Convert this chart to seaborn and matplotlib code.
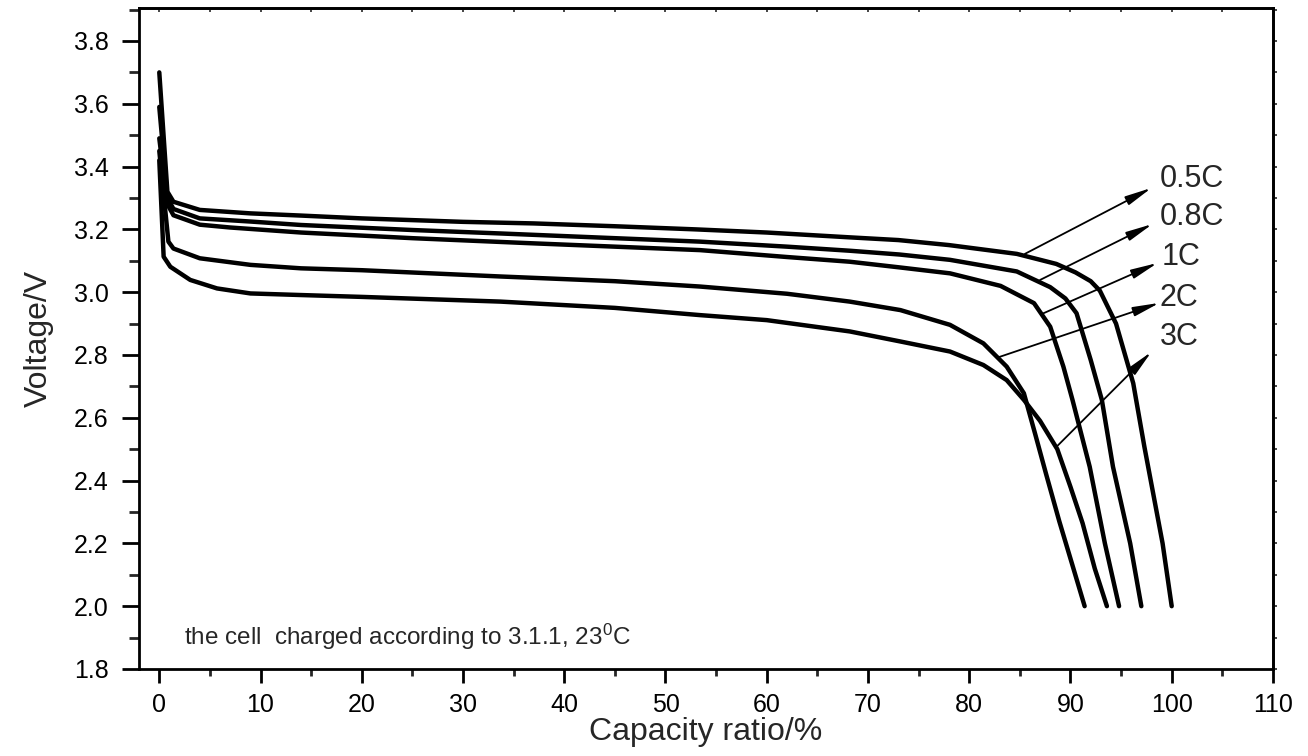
import matplotlib
matplotlib.use("Agg")
import matplotlib.pyplot as plt
from matplotlib.ticker import MultipleLocator
import seaborn as sns
import pandas as pd

# ---- data ----
rates = ["0.5C", "0.8C", "1C", "2C", "3C"]

x_05 = [0, 0.8, 1.4, 4, 9, 14, 20, 30, 37, 45, 53, 60, 68, 73, 78, 84.7, 88.6, 90.5, 92.0, 92.9, 94.5, 96.2, 97.3, 99.1, 100]
y_05 = [3.70, 3.32, 3.288, 3.262, 3.251, 3.244, 3.235, 3.224, 3.219, 3.21, 3.20, 3.19, 3.175, 3.166, 3.150, 3.122, 3.090, 3.063, 3.035, 3.005, 2.90, 2.71, 2.508, 2.20, 2.00]

x_08 = [0, 0.8, 1.4, 4, 9, 14, 25, 33.7, 45, 53.4, 62, 68.2, 73.1, 78.1, 84.7, 88.0, 89.5, 90.6, 92.0, 93.1, 94.2, 95.9, 97.0]
y_08 = [3.59, 3.30, 3.265, 3.235, 3.225, 3.214, 3.198, 3.187, 3.172, 3.161, 3.145, 3.132, 3.120, 3.103, 3.066, 3.016, 2.980, 2.933, 2.784, 2.657, 2.444, 2.20, 2.00]

x_1 = [0, 0.8, 1.4, 4, 7, 14, 25, 36.6, 45, 53.4, 62, 68.2, 73.1, 78.1, 83.1, 86.4, 88.0, 89.3, 90.2, 91.9, 93.4, 94.8]
y_1 = [3.49, 3.28, 3.245, 3.215, 3.206, 3.19, 3.172, 3.156, 3.145, 3.134, 3.112, 3.097, 3.079, 3.060, 3.020, 2.965, 2.890, 2.763, 2.657, 2.444, 2.20, 2.00]

x_2 = [0, 0.9, 1.4, 4, 9, 14, 20, 33.7, 45, 53.4, 62, 68.2, 73.2, 78.1, 81.4, 83.7, 85.4, 86.5, 87.6, 88.9, 90.2, 91.4]
y_2 = [3.45, 3.161, 3.139, 3.108, 3.087, 3.076, 3.070, 3.050, 3.035, 3.018, 2.995, 2.970, 2.943, 2.896, 2.837, 2.763, 2.678, 2.55, 2.42, 2.27, 2.13, 2.00]

x_3 = [0, 0.43, 1.09, 3.06, 5.7, 9.0, 13.9, 20, 33.7, 45, 53.4, 60, 68.2, 73.2, 78.1, 81.4, 83.7, 85.4, 87.0, 88.7, 90.0, 91.2, 92.4, 93.6]
y_3 = [3.42, 3.113, 3.081, 3.039, 3.012, 2.996, 2.991, 2.985, 2.970, 2.950, 2.927, 2.911, 2.875, 2.843, 2.811, 2.768, 2.720, 2.657, 2.59, 2.50, 2.38, 2.264, 2.12, 2.00]

# label text positions (baseline-left) and arrow start/end points
label_x = [98.8, 98.8, 99.0, 98.8, 98.8]
label_y = [3.336, 3.214, 3.087, 2.956, 2.832]
arrow_start_x = [85.5, 87.0, 87.2, 83.0, 88.6]
arrow_start_y = [3.122, 3.039, 2.931, 2.794, 2.507]
arrow_end_x = [98.0, 98.1, 98.6, 98.8, 98.0]
arrow_end_y = [3.332, 3.217, 3.093, 2.966, 2.810]

x_ticks = list(range(0, 111, 10))
y_ticks = [1.8, 2.0, 2.2, 2.4, 2.6, 2.8, 3.0, 3.2, 3.4, 3.6, 3.8]

note_text = "the cell  charged according to 3.1.1, 23$^{\\mathrm{0}}$C"
x_title = "Capacity ratio/%"
y_title = "Voltage/V"

# ---- build long table ----
series_x = [x_05, x_08, x_1, x_2, x_3]
series_y = [y_05, y_08, y_1, y_2, y_3]
frames = []
for r, xs, ys in zip(rates, series_x, series_y):
    frames.append(pd.DataFrame({"capacity": xs, "voltage": ys, "rate": r}))
df = pd.concat(frames, ignore_index=True)

sns.set_theme(style="white")
plt.rcParams["font.family"] = ["Liberation Sans", "DejaVu Sans"]
plt.rcParams["mathtext.fontset"] = "custom"
plt.rcParams["mathtext.rm"] = "Liberation Sans"
plt.rcParams["mathtext.it"] = "Liberation Sans:italic"

fig = plt.figure(figsize=(13.08, 7.56), dpi=100)
ax = fig.add_axes([0.1063, 0.1151, 0.8669, 0.8743])

sns.lineplot(data=df, x="capacity", y="voltage", hue="rate", units="rate",
             estimator=None, sort=False, palette=["black"] * 5,
             linewidth=3.2, legend=False, ax=ax)
for ln in ax.lines:
    ln.set_solid_joinstyle("round")
    ln.set_solid_capstyle("round")

ax.set_xlim(-2, 110)
ax.set_ylim(1.8, 3.905)

ax.set_xticks(x_ticks)
ax.set_yticks(y_ticks)
ax.set_yticklabels([f"{v:.1f}" for v in y_ticks])
ax.xaxis.set_minor_locator(MultipleLocator(5))
ax.yaxis.set_minor_locator(MultipleLocator(0.1))

for s in ax.spines.values():
    s.set_color("black")
    s.set_linewidth(2.0)
    s.set_visible(True)

ax.tick_params(axis="x", which="major", direction="out", length=10, width=2,
               labelsize=18, pad=7, colors="black", bottom=True, top=False)
ax.tick_params(axis="x", which="minor", direction="out", length=5, width=2,
               bottom=True, top=False)
ax.tick_params(axis="y", which="major", direction="out", length=12, width=2,
               labelsize=18, pad=10, colors="black", left=True, right=False)
ax.tick_params(axis="y", which="minor", direction="out", length=7, width=2,
               left=True, right=False)

# small ticks on top/right axes
ax_top = ax.secondary_xaxis("top")
ax_top.set_xticks([])
ax_top.xaxis.set_minor_locator(MultipleLocator(5))
ax_top.tick_params(which="minor", direction="in", length=3, width=1.2)
ax_top.tick_params(which="both", labeltop=False)
ax_right = ax.secondary_yaxis("right")
ax_right.set_yticks([])
ax_right.yaxis.set_minor_locator(MultipleLocator(0.1))
ax_right.tick_params(which="minor", direction="out", length=3, width=1.2)
ax_right.tick_params(which="both", labelright=False)
for a in (ax_top, ax_right):
    for s in a.spines.values():
        s.set_linewidth(2.0)

ax.set_xlabel(x_title, fontsize=23, labelpad=0)
ax.set_ylabel(y_title, fontsize=23, labelpad=14)

for lab, lx, ly in zip(rates, label_x, label_y):
    ax.text(lx, ly, lab, fontsize=22, ha="left", va="baseline")
for sx, sy, ex, ey in zip(arrow_start_x, arrow_start_y, arrow_end_x, arrow_end_y):
    ax.annotate("", xy=(ex, ey), xytext=(sx, sy),
                arrowprops=dict(arrowstyle="-|>,head_length=0.8,head_width=0.14",
                                mutation_scale=20, lw=1.3, color="black",
                                shrinkA=0, shrinkB=0))

ax.text(2.4, 1.876, note_text, fontsize=17.5, ha="left", va="baseline")

fig.savefig("out.png", dpi=100, facecolor="white")
